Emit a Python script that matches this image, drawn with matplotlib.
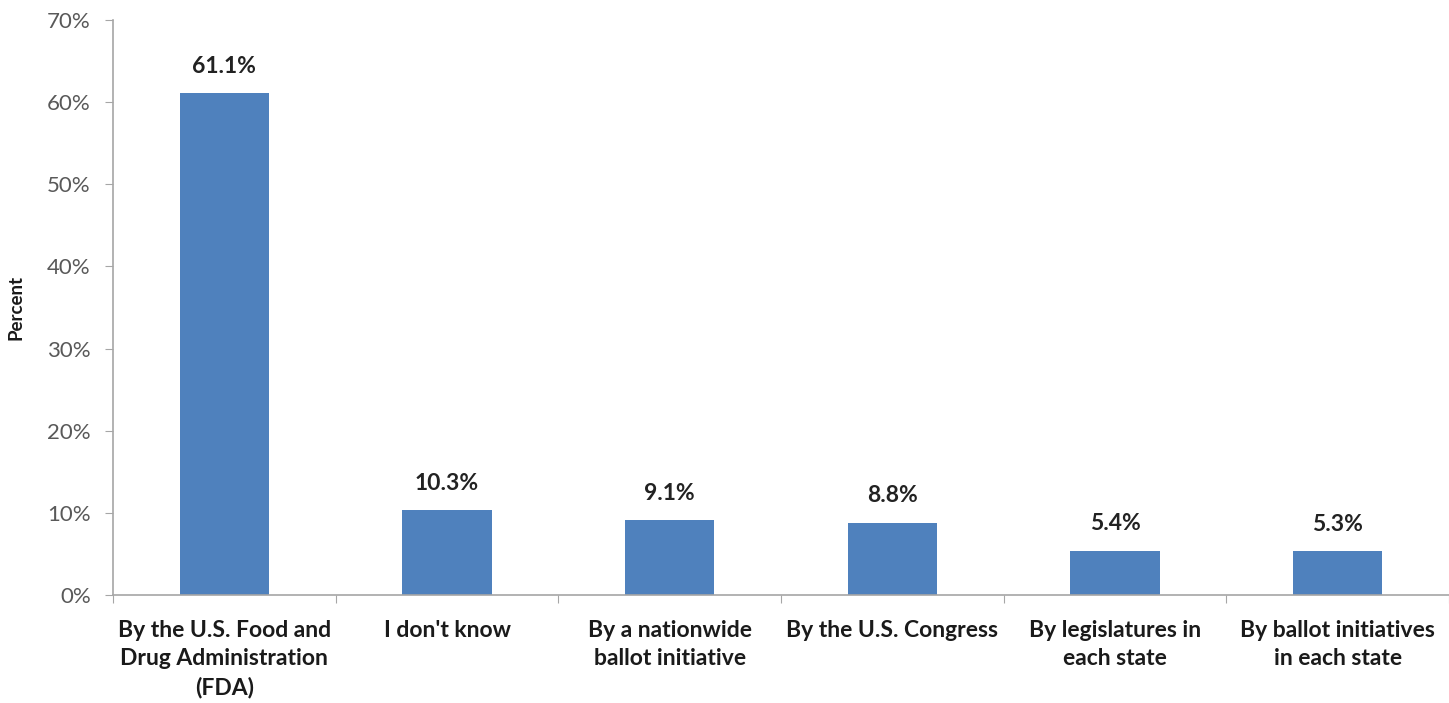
import matplotlib
matplotlib.use("Agg")
import matplotlib.pyplot as plt
from matplotlib.ticker import FuncFormatter, MultipleLocator

categories = [
    "By the U.S. Food and\nDrug Administration\n(FDA)",
    "I don't know",
    "By a nationwide\nballot initiative",
    "By the U.S. Congress",
    "By legislatures in\neach state",
    "By ballot initiatives\nin each state",
]
percent = [61.1, 10.3, 9.1, 8.8, 5.4, 5.3]

plt.rcParams['font.family'] = ['Lato', 'DejaVu Sans']

fig = plt.figure(figsize=(14.49, 7.03), dpi=100)
ax = fig.add_axes([0.078, 0.1536, 0.922, 0.818])

x = list(range(len(categories)))
bars = ax.bar(x, percent, width=0.4, color='#4F81BD', zorder=2)

for b, v in zip(bars, percent):
    ax.text(b.get_x() + b.get_width() / 2, v + 2.0, f"{v:.1f}%",
            ha='center', va='bottom', fontsize=16.5, fontweight='bold', color='#222222')

ax.set_xlim(-0.5, len(categories) - 0.5)
ax.set_ylim(0, 70)
ax.yaxis.set_major_locator(MultipleLocator(10))
ax.yaxis.set_major_formatter(FuncFormatter(lambda v, p: f"{v:.0f}%"))

# category separators on the x axis
ax.set_xticks([i - 0.5 for i in range(len(categories) + 1)])
ax.set_xticklabels([])
ax.set_xticks(x, minor=True)
ax.set_xticklabels(categories, minor=True, fontsize=16.5, fontweight='bold',
                   color='#1a1a1a', linespacing=1.42)
ax.tick_params(axis='x', which='minor', length=0, pad=18)
ax.tick_params(axis='x', which='major', length=6, color='#a6a6a6', direction='out')
ax.tick_params(axis='y', length=6, color='#a6a6a6', labelsize=16,
               labelcolor='#595959', pad=10)

for s in ['top', 'right']:
    ax.spines[s].set_visible(False)
ax.spines['left'].set_color('#a6a6a6')
ax.spines['bottom'].set_color('#a6a6a6')
ax.spines['left'].set_linewidth(1.2)
ax.spines['bottom'].set_linewidth(1.2)

ax.set_ylabel("Percent", fontsize=13.5, fontweight='bold', color='#1a1a1a', labelpad=16)

fig.savefig("out.png", dpi=100)
